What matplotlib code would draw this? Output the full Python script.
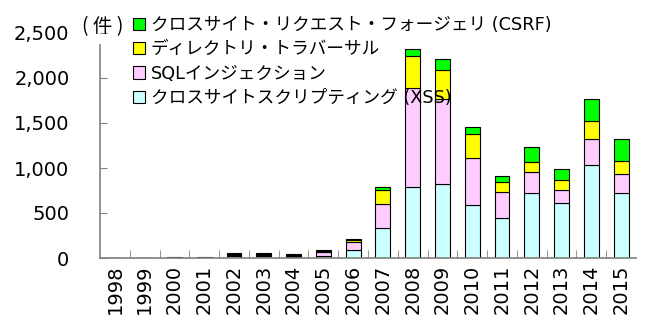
import matplotlib.pyplot as plt
import numpy as np
from matplotlib.ticker import FuncFormatter, FixedLocator

plt.rcParams['font.family'] = ['DejaVu Sans', 'Noto Sans CJK JP']

years = ['1998', '1999', '2000', '2001', '2002', '2003', '2004', '2005', '2006',
         '2007', '2008', '2009', '2010', '2011', '2012', '2013', '2014', '2015']

xss = [0, 0, 3, 3, 20, 25, 15, 25, 90, 336, 787, 817, 591, 447, 718, 613, 1028, 718]
sqli = [0, 0, 1, 1, 12, 10, 10, 45, 92, 260, 1106, 954, 518, 288, 239, 144, 299, 217]
traversal = [0, 0, 1, 1, 12, 15, 10, 12, 20, 158, 350, 322, 274, 111, 115, 105, 200, 144]
csrf = [0, 0, 1, 1, 8, 5, 5, 7, 9, 37, 83, 117, 78, 60, 156, 122, 244, 241]

series = [
    ('クロスサイトスクリプティング (XSS)', xss, '#CCFFFF'),
    ('SQLインジェクション', sqli, '#FFCCFF'),
    ('ディレクトリ・トラバーサル', traversal, '#FFFF00'),
    ('クロスサイト・リクエスト・フォージェリ (CSRF)', csrf, '#00FF00'),
]

fig = plt.figure(figsize=(6.49, 3.26), dpi=100)
ax = fig.add_axes([100 / 649, 1 - 258 / 326, 536 / 649, 225 / 326])

x = np.arange(len(years))
bottom = np.zeros(len(years))
handles = []
for label, vals, color in series:
    vals = np.array(vals, dtype=float)
    bars = ax.bar(x, vals, width=0.5, bottom=bottom, color=color,
                  edgecolor='black', linewidth=0.8, label=label, zorder=2)
    handles.append(bars)
    bottom += vals

ax.set_xlim(-0.5, len(years) - 0.5)
ax.set_ylim(0, 2500)
ax.set_yticks(np.arange(0, 2501, 500))
ax.yaxis.set_major_formatter(FuncFormatter(lambda v, p: f'{int(v):,}'))
ax.set_xticks(x)
ax.set_xticklabels(years, rotation=90)
ax.xaxis.set_minor_locator(FixedLocator(np.arange(0.5, len(years) - 0.5, 1)))

for s in ['top', 'right']:
    ax.spines[s].set_visible(False)
for s in ['left', 'bottom']:
    ax.spines[s].set_color('#808080')
    ax.spines[s].set_linewidth(1.2)
ax.spines['left'].set_bounds(0, 2370)

ax.tick_params(axis='y', direction='in', length=5, color='#808080',
               labelsize=14, pad=22)
ax.tick_params(axis='x', which='major', length=0, labelsize=14, pad=5)
ax.tick_params(axis='x', which='minor', direction='in', length=6,
               color='#808080')

fig.text(82 / 649, 1 - 27 / 326, '( 件 )', fontsize=14, va='center', ha='left',
         family=['Noto Sans CJK JP'])

leg = ax.legend(handles[::-1], [s[0] for s in series][::-1],
                loc='upper left', bbox_to_anchor=(133 / 649, 1 - 16 / 326),
                bbox_transform=fig.transFigure, frameon=False,
                prop={'family': ['DejaVu Sans', 'Noto Sans CJK JP'], 'size': 12.7},
                handlelength=0.7, handleheight=0.7, handletextpad=0.3,
                labelspacing=0.36, borderaxespad=0, borderpad=0)
leg.set_zorder(5)

fig.savefig('out.png', dpi=100)
